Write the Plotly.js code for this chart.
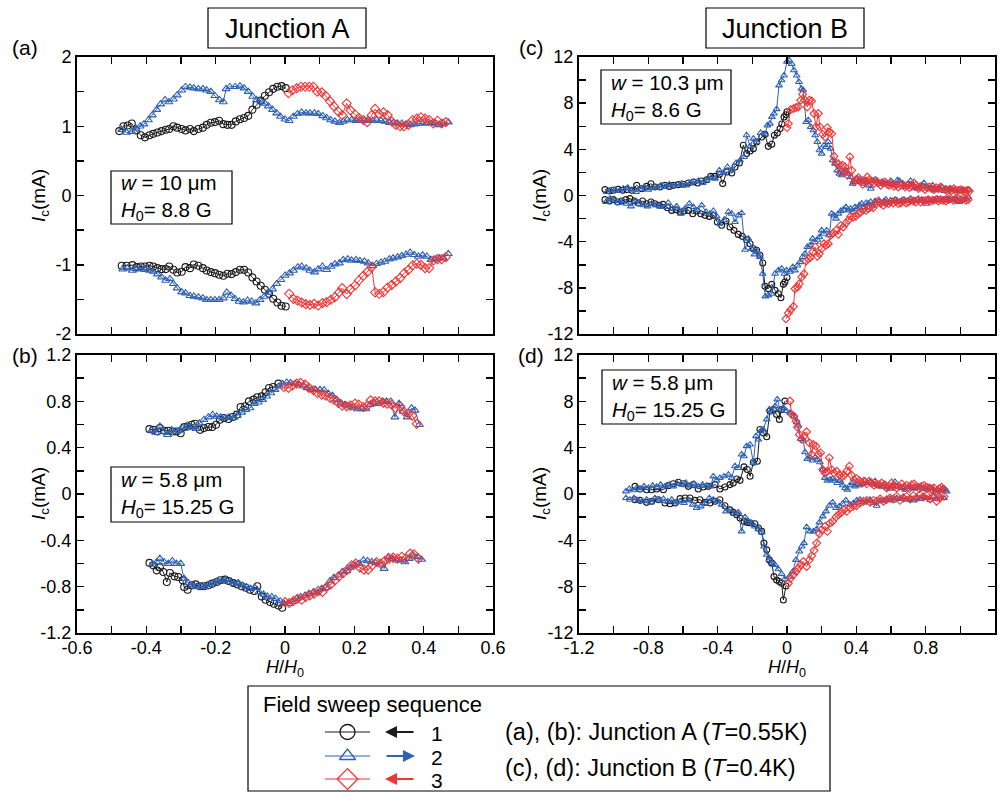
<!DOCTYPE html>
<html>
<head>
<meta charset="utf-8">
<script src="https://cdn.plot.ly/plotly-3.0.1.min.js"></script>
<style>html,body{margin:0;padding:0;background:#fff;}#chart{width:1007px;height:793px;}</style>
</head>
<body>
<div id="chart"></div>
<script>
// ---------------- Panel (a): Junction A, w = 10 um ----------------
const aBlkUpX = [-0.478,-0.466,-0.454,-0.442,-0.43,-0.416,-0.404,-0.391,-0.38,-0.368,-0.356,-0.344,-0.334,-0.322,-0.311,-0.298,-0.287,-0.274,-0.263,-0.25,-0.237,-0.226,-0.214,-0.202,-0.19,-0.178,-0.166,-0.154,-0.142,-0.13,-0.118,-0.106,-0.094,-0.082,-0.07,-0.058,-0.046,-0.034,-0.022,-0.01,0.002];
const aBlkUpY = [0.93,1.0,1.01,1.04,0.94,0.87,0.84,0.87,0.89,0.91,0.93,0.95,0.96,1.0,0.98,0.96,0.94,0.96,0.93,0.96,0.98,1.02,1.05,1.06,1.08,1.03,1.02,1.02,1.07,1.1,1.12,1.15,1.24,1.31,1.37,1.44,1.49,1.54,1.57,1.58,1.55];
const aBluUpX = [-0.471,-0.457,-0.442,-0.43,-0.418,-0.407,-0.394,-0.383,-0.37,-0.359,-0.346,-0.335,-0.322,-0.311,-0.298,-0.287,-0.274,-0.263,-0.25,-0.237,-0.226,-0.214,-0.202,-0.189,-0.178,-0.17,-0.159,-0.144,-0.13,-0.118,-0.106,-0.093,-0.082,-0.07,-0.058,-0.048,-0.036,-0.024,-0.013,0.0,0.012,0.024,0.036,0.048,0.061,0.072,0.085,0.096,0.109,0.12,0.132,0.144,0.157,0.168,0.18,0.192,0.205,0.216,0.229,0.24,0.253,0.264,0.277,0.288,0.301,0.312,0.325,0.337,0.349,0.361,0.373,0.385,0.397,0.409,0.421,0.433,0.445,0.457,0.471];
const aBluUpY = [0.95,0.91,0.92,0.97,1.0,1.03,1.09,1.16,1.24,1.32,1.38,1.35,1.39,1.45,1.52,1.57,1.56,1.55,1.54,1.54,1.52,1.5,1.44,1.38,1.35,1.54,1.57,1.57,1.58,1.55,1.5,1.43,1.38,1.36,1.33,1.29,1.24,1.19,1.14,1.1,1.08,1.14,1.18,1.2,1.19,1.19,1.19,1.18,1.15,1.12,1.09,1.07,1.05,1.07,1.09,1.09,1.08,1.09,1.08,1.09,1.08,1.09,1.08,1.07,1.05,1.05,1.04,1.04,1.03,1.02,1.03,1.04,1.04,1.05,1.04,1.05,1.02,1.04,1.06];
const aRedUpX = [0.01,0.021,0.034,0.046,0.058,0.07,0.082,0.093,0.106,0.117,0.13,0.141,0.154,0.165,0.178,0.189,0.202,0.213,0.226,0.237,0.25,0.26,0.271,0.284,0.296,0.308,0.32,0.332,0.343,0.356,0.368,0.38,0.392,0.404,0.416,0.428,0.44,0.452,0.464];
const aRedUpY = [1.48,1.52,1.55,1.57,1.57,1.57,1.57,1.5,1.49,1.44,1.36,1.29,1.21,1.16,1.33,1.23,1.17,1.12,1.09,1.06,1.16,1.25,1.18,1.2,1.16,1.07,1.02,1.0,1.0,1.02,1.09,1.11,1.13,1.11,1.09,1.04,1.08,1.04,1.06];
const aBlkLoX = [-0.471,-0.457,-0.44,-0.428,-0.416,-0.404,-0.391,-0.38,-0.368,-0.356,-0.344,-0.334,-0.322,-0.311,-0.298,-0.287,-0.274,-0.263,-0.25,-0.237,-0.226,-0.214,-0.202,-0.19,-0.178,-0.166,-0.154,-0.142,-0.13,-0.118,-0.106,-0.094,-0.082,-0.07,-0.058,-0.046,-0.034,-0.022,-0.01,0.002];
const aBlkLoY = [-1.015,-1.015,-1.006,-1.034,-1.025,-1.025,-1.015,-1.025,-1.049,-1.063,-1.063,-1.025,-1.073,-1.111,-1.1,-1.034,-1.049,-0.996,-1.015,-1.049,-1.082,-1.106,-1.121,-1.145,-1.159,-1.131,-1.135,-1.106,-1.073,-1.073,-1.111,-1.183,-1.241,-1.304,-1.362,-1.419,-1.492,-1.545,-1.593,-1.602];
const aBluLoX = [-0.468,-0.455,-0.44,-0.428,-0.416,-0.404,-0.391,-0.38,-0.368,-0.356,-0.344,-0.332,-0.322,-0.311,-0.298,-0.287,-0.274,-0.263,-0.25,-0.237,-0.226,-0.214,-0.202,-0.19,-0.178,-0.168,-0.156,-0.144,-0.132,-0.12,-0.108,-0.096,-0.084,-0.072,-0.06,-0.048,-0.036,-0.024,-0.012,0.0,0.013,0.024,0.037,0.048,0.061,0.072,0.085,0.096,0.108,0.12,0.133,0.144,0.157,0.168,0.181,0.192,0.205,0.216,0.229,0.24,0.253,0.264,0.277,0.288,0.301,0.312,0.325,0.337,0.349,0.361,0.373,0.385,0.397,0.409,0.421,0.433,0.445,0.457,0.471];
const aBluLoY = [-1.064,-1.049,-1.082,-1.063,-1.049,-1.073,-1.082,-1.097,-1.135,-1.179,-1.227,-1.203,-1.275,-1.338,-1.395,-1.41,-1.448,-1.458,-1.467,-1.482,-1.506,-1.506,-1.506,-1.506,-1.482,-1.4,-1.444,-1.492,-1.53,-1.54,-1.516,-1.53,-1.554,-1.506,-1.458,-1.4,-1.352,-1.275,-1.217,-1.155,-1.121,-1.082,-1.034,-1.025,-1.049,-1.082,-1.107,-1.063,-1.025,-1.073,-1.025,-0.991,-0.977,-0.929,-0.919,-0.938,-0.929,-0.943,-0.952,-0.977,-1.015,-0.986,-0.967,-0.953,-0.919,-0.904,-0.89,-0.871,-0.852,-0.823,-0.856,-0.88,-0.861,-0.88,-0.928,-0.919,-0.904,-0.904,-0.842];
const aRedLoX = [0.012,0.024,0.036,0.048,0.06,0.072,0.084,0.096,0.108,0.12,0.132,0.144,0.156,0.165,0.178,0.189,0.202,0.213,0.226,0.237,0.25,0.26,0.272,0.284,0.296,0.308,0.32,0.332,0.344,0.356,0.368,0.38,0.392,0.404,0.416,0.428,0.44,0.452,0.464];
const aRedLoY = [-1.419,-1.492,-1.516,-1.545,-1.569,-1.579,-1.564,-1.588,-1.554,-1.54,-1.506,-1.468,-1.4,-1.338,-1.424,-1.352,-1.299,-1.227,-1.159,-1.106,-1.034,-1.4,-1.419,-1.395,-1.328,-1.29,-1.241,-1.193,-1.121,-1.073,-1.01,-0.986,-1.001,-1.049,-1.049,-0.938,-0.919,-0.919,-0.89];

// ---------------- Panel (b): Junction A, w = 5.8 um ----------------
const bBlkUpX = [-0.391,-0.38,-0.368,-0.361,-0.348,-0.337,-0.324,-0.313,-0.301,-0.291,-0.281,-0.269,-0.26,-0.245,-0.234,-0.221,-0.21,-0.199,-0.188,-0.176,-0.163,-0.151,-0.139,-0.128,-0.115,-0.104,-0.091,-0.08,-0.067,-0.056,-0.046,-0.034,-0.019];
const bBlkUpY = [0.56,0.554,0.54,0.569,0.546,0.546,0.54,0.54,0.525,0.578,0.583,0.598,0.606,0.554,0.569,0.578,0.578,0.598,0.641,0.656,0.647,0.665,0.685,0.751,0.757,0.8,0.815,0.835,0.843,0.878,0.915,0.924,0.953];
const bBluUpX = [-0.385,-0.373,-0.361,-0.349,-0.339,-0.327,-0.315,-0.305,-0.293,-0.282,-0.269,-0.257,-0.247,-0.234,-0.221,-0.209,-0.197,-0.186,-0.173,-0.162,-0.149,-0.138,-0.125,-0.113,-0.101,-0.089,-0.077,-0.065,-0.053,-0.041,-0.029,-0.017,-0.007,0.005,0.016,0.029,0.04,0.053,0.064,0.077,0.088,0.101,0.113,0.125,0.137,0.149,0.161,0.173,0.185,0.197,0.209,0.221,0.233,0.245,0.257,0.269,0.281,0.293,0.305,0.317,0.329,0.341,0.353,0.365,0.375,0.388];
const bBluUpY = [0.549,0.531,0.583,0.54,0.511,0.554,0.54,0.549,0.578,0.589,0.575,0.563,0.612,0.641,0.664,0.684,0.67,0.664,0.656,0.664,0.656,0.676,0.705,0.728,0.742,0.78,0.792,0.815,0.844,0.872,0.901,0.93,0.95,0.964,0.959,0.953,0.945,0.93,0.916,0.901,0.901,0.901,0.896,0.867,0.85,0.815,0.786,0.771,0.757,0.748,0.734,0.734,0.734,0.771,0.786,0.78,0.8,0.8,0.8,0.664,0.78,0.713,0.664,0.742,0.722,0.598];
const bRedUpX = [-0.003,0.01,0.021,0.034,0.045,0.058,0.069,0.082,0.093,0.106,0.117,0.13,0.141,0.154,0.165,0.178,0.189,0.202,0.213,0.226,0.238,0.247,0.26,0.271,0.284,0.295,0.308,0.319,0.332,0.343,0.356,0.367,0.38];
const bRedUpY = [0.924,0.916,0.936,0.953,0.959,0.945,0.916,0.896,0.872,0.858,0.85,0.829,0.815,0.786,0.763,0.757,0.763,0.78,0.771,0.751,0.763,0.809,0.8,0.8,0.786,0.78,0.771,0.742,0.757,0.713,0.693,0.676,0.606];
const bBlkLoX = [-0.391,-0.38,-0.37,-0.361,-0.351,-0.341,-0.332,-0.319,-0.308,-0.295,-0.291,-0.281,-0.269,-0.258,-0.245,-0.234,-0.221,-0.21,-0.197,-0.186,-0.173,-0.162,-0.149,-0.138,-0.125,-0.113,-0.101,-0.089,-0.08,-0.067,-0.056,-0.043,-0.032,-0.019,-0.008];
const bBlkLoY = [-0.595,-0.615,-0.659,-0.635,-0.673,-0.76,-0.682,-0.711,-0.716,-0.745,-0.803,-0.826,-0.788,-0.78,-0.797,-0.797,-0.788,-0.774,-0.76,-0.745,-0.739,-0.751,-0.768,-0.78,-0.797,-0.809,-0.826,-0.837,-0.797,-0.884,-0.913,-0.933,-0.947,-0.962,-0.982];
const bBluLoX = [-0.382,-0.37,-0.361,-0.349,-0.337,-0.325,-0.313,-0.301,-0.291,-0.279,-0.267,-0.255,-0.243,-0.231,-0.219,-0.207,-0.195,-0.183,-0.171,-0.159,-0.147,-0.135,-0.123,-0.111,-0.099,-0.087,-0.075,-0.062,-0.051,-0.038,-0.027,-0.014,-0.003,0.01,0.021,0.034,0.045,0.058,0.069,0.082,0.093,0.106,0.117,0.13,0.141,0.154,0.165,0.178,0.189,0.202,0.213,0.226,0.238,0.25,0.262,0.274,0.286,0.298,0.31,0.322,0.334,0.346,0.358,0.37,0.382,0.394];
const bBluLoY = [-0.607,-0.587,-0.558,-0.587,-0.601,-0.578,-0.601,-0.601,-0.731,-0.768,-0.788,-0.803,-0.797,-0.803,-0.78,-0.768,-0.751,-0.751,-0.739,-0.76,-0.774,-0.768,-0.788,-0.803,-0.817,-0.809,-0.846,-0.866,-0.884,-0.889,-0.904,-0.924,-0.947,-0.947,-0.933,-0.904,-0.889,-0.875,-0.86,-0.846,-0.855,-0.817,-0.809,-0.751,-0.722,-0.702,-0.673,-0.664,-0.635,-0.615,-0.601,-0.572,-0.578,-0.587,-0.595,-0.607,-0.644,-0.543,-0.558,-0.572,-0.572,-0.587,-0.558,-0.529,-0.543,-0.566];
const bRedLoX = [0.0,0.012,0.024,0.036,0.048,0.06,0.072,0.084,0.096,0.108,0.12,0.132,0.144,0.156,0.168,0.18,0.192,0.204,0.216,0.228,0.24,0.252,0.264,0.276,0.288,0.3,0.312,0.324,0.337,0.348,0.361,0.372,0.385];
const bRedLoY = [-0.933,-0.941,-0.924,-0.904,-0.913,-0.889,-0.875,-0.86,-0.837,-0.846,-0.803,-0.78,-0.745,-0.711,-0.682,-0.653,-0.615,-0.601,-0.635,-0.653,-0.653,-0.615,-0.587,-0.601,-0.578,-0.558,-0.549,-0.558,-0.543,-0.558,-0.514,-0.52,-0.558];

// ---------------- Panel (c): Junction B, w = 10.3 um ----------------
const cBlkUpX = [-1.05,-1.025,-1.002,-0.973,-0.948,-0.925,-0.896,-0.867,-0.838,-0.81,-0.785,-0.762,-0.733,-0.704,-0.679,-0.656,-0.627,-0.598,-0.569,-0.54,-0.515,-0.492,-0.463,-0.44,-0.415,-0.39,-0.371,-0.348,-0.319,-0.3,-0.275,-0.252,-0.233,-0.213,-0.194,-0.175,-0.146,-0.127,-0.108,-0.088,-0.073,-0.056,-0.04,-0.03,-0.017,-0.006,0.0];
const cBlkUpY = [0.51,0.39,0.45,0.53,0.45,0.51,0.45,0.88,0.59,0.79,1.02,0.74,0.74,0.88,0.79,0.88,0.94,0.97,1.08,1.17,1.08,1.26,1.37,1.66,1.66,1.84,1.03,2.04,1.95,2.47,2.82,4.35,3.63,3.86,4.06,4.64,5.07,5.3,4.26,4.44,5.22,5.42,5.8,6.2,6.8,7.0,7.25];
const cBluUpX = [-1.04,-1.017,-0.992,-0.967,-0.944,-0.919,-0.896,-0.871,-0.848,-0.823,-0.8,-0.775,-0.752,-0.727,-0.704,-0.679,-0.656,-0.631,-0.608,-0.583,-0.56,-0.535,-0.512,-0.487,-0.463,-0.438,-0.415,-0.39,-0.367,-0.344,-0.319,-0.294,-0.271,-0.248,-0.233,-0.213,-0.194,-0.175,-0.152,-0.127,-0.113,-0.098,-0.087,-0.075,-0.06,-0.046,
  -0.031,-0.017,0.0,0.013,0.027,0.04,0.056,0.069,0.083,0.094,0.11,0.123,0.137,0.152,0.163,0.175,0.187,0.2,0.213,0.225,0.238,0.252,0.263,0.277,0.29,0.302,0.315,0.329,0.34,0.354,0.367,0.379,0.392,0.406,0.417,0.431,0.444,0.456,0.469,0.483,0.494,0.508,0.521,0.533,0.546,0.56,0.571,0.585,0.598,0.61,0.623,0.637,0.648,0.662,0.675,0.687,0.7,0.713,0.725,0.738,0.752,0.763,0.777,0.79,0.802,0.815,0.829,0.84,0.854,0.867,0.879,0.892,0.906,0.917,0.931,0.944,0.956,0.969,0.983,0.994,1.008,1.021,1.033,1.046];
const cBluUpY = [0.3,0.45,0.51,0.39,0.59,0.68,0.45,0.3,0.59,0.74,0.51,0.68,0.68,0.88,0.74,0.97,0.8,0.94,1.03,0.88,1.08,1.17,1.26,1.08,1.32,1.55,1.46,2.18,1.95,2.47,2.18,2.82,3.05,3.34,5.22,4.26,4.93,4.64,5.42,5.3,6.08,6.23,6.81,7.1,7.48,9.54,
  9.98,10.4,11.6,11.7,11.4,10.85,10.4,9.84,9.26,9.12,6.37,6.52,5.94,5.65,5.22,4.64,3.92,3.63,4.35,4.2,4.64,4.06,3.05,2.76,2.18,1.89,1.75,2.04,2.18,1.89,1.6,1.03,1.17,1.46,1.32,1.17,1.03,1.32,0.88,0.59,1.26,1.37,1.26,1.03,1.17,1.08,1.03,0.97,1.26,1.03,0.88,1.32,1.26,1.03,0.88,0.74,1.03,1.26,0.88,0.68,0.59,0.79,0.88,1.08,0.74,0.59,0.68,0.88,0.45,0.51,0.59,0.74,0.39,0.59,0.51,0.59,0.45,0.51,0.39,0.51,0.45,0.45,0.39,0.51];
const cRedUpX = [0.0,0.008,0.021,0.037,0.052,0.065,0.079,0.09,0.104,0.117,0.129,0.142,0.156,0.167,0.181,0.19,0.206,0.219,0.233,0.244,0.258,0.271,0.283,0.296,0.31,0.321,0.335,0.348,0.363,0.373,0.387,0.398,0.412,0.425,0.437,0.45,0.463,0.475,0.488,0.502,0.513,0.527,0.54,0.552,0.565,0.579,0.59,0.604,0.617,0.629,0.642,0.656,0.667,0.681,0.694,0.706,0.719,0.733,0.744,0.758,0.771,0.783,0.796,0.81,0.821,0.835,0.848,0.86,0.873,0.887,0.898,0.912,0.925,0.937,0.95,0.963,0.975,0.988,1.002,1.013,1.027,1.04,1.052];
const cRedUpY = [5.88,6.23,7.44,7.53,7.62,7.67,8.25,8.77,8.25,7.67,8.25,8.19,7.1,5.94,7.1,5.94,5.3,5.07,5.88,5.5,5.36,3.4,2.82,2.76,2.04,2.62,2.47,1.75,3.34,2.18,1.17,1.37,1.55,1.32,0.97,1.26,1.6,1.37,1.17,1.03,1.26,1.08,0.88,1.08,1.17,0.97,0.88,1.08,0.79,0.88,0.74,0.88,0.97,0.74,0.88,0.68,0.79,1.08,0.88,0.59,0.74,0.68,0.51,0.68,0.74,0.59,0.51,0.68,0.59,0.74,0.59,0.51,0.39,0.51,0.45,0.59,0.39,0.45,0.51,0.45,0.39,0.45,0.39];
const cBlkLoX = [-1.05,-1.025,-1.002,-0.977,-0.954,-0.929,-0.906,-0.881,-0.858,-0.833,-0.81,-0.785,-0.762,-0.737,-0.715,-0.69,-0.665,-0.64,-0.617,-0.594,-0.569,-0.544,-0.521,-0.498,-0.473,-0.448,-0.425,-0.402,-0.377,-0.352,-0.329,-0.306,-0.281,-0.258,-0.233,-0.213,-0.194,-0.175,-0.156,-0.14,-0.127,-0.108,-0.088,-0.069,-0.05,-0.035,-0.021,-0.012,0.0];
const cBlkLoY = [-0.36,-0.48,-0.36,-0.56,-0.48,-0.36,-0.27,-0.48,-0.65,-0.48,-0.71,-0.56,-0.71,-0.85,-0.77,-1.06,-1.29,-1.23,-1.43,-1.34,-1.29,-1.58,-1.34,-1.58,-1.72,-1.81,-1.72,-2.29,-2.58,-2.21,-2.73,-3.02,-3.37,-3.54,-3.83,-4.18,-4.61,-4.75,-5.19,-5.85,-7.87,-8.07,-7.7,-8.22,-8.51,-8.86,-7.7,-7.5,-7.1];
const cBluLoX = [-1.044,-1.021,-0.996,-0.973,-0.948,-0.925,-0.9,-0.877,-0.852,-0.829,-0.804,-0.781,-0.756,-0.733,-0.708,-0.685,-0.66,-0.637,-0.612,-0.589,-0.563,-0.54,-0.515,-0.492,-0.467,-0.444,-0.425,-0.406,-0.387,-0.362,-0.338,-0.319,-0.3,-0.281,-0.262,-0.242,-0.223,-0.204,-0.188,-0.175,-0.156,-0.14,-0.125,-0.108,-0.088,-0.069,-0.05,-0.031,-0.015,-0.002,
  0.017,0.033,0.046,0.06,0.075,0.09,0.104,0.117,0.133,0.148,0.162,0.175,0.187,0.2,0.213,0.229,0.244,0.258,0.271,0.283,0.296,0.31,0.325,0.34,0.354,0.367,0.379,0.392,0.406,0.417,0.431,0.444,0.456,0.469,0.483,0.494,0.508,0.521,0.533,0.546,0.56,0.571,0.585,0.598,0.61,0.623,0.637,0.648,0.662,0.675,0.687,0.7,0.713,0.725,0.738,0.752,0.763,0.777,0.79,0.802,0.815,0.829,0.84,0.854,0.867,0.879,0.892,0.906,0.917,0.931,0.944,0.956,0.969,0.983,0.994,1.008,1.021,1.033,1.046];
const cBluLoY = [-0.56,-0.27,-0.42,-0.65,-0.48,-0.71,-0.94,-0.48,-0.71,-0.85,-0.94,-0.71,-0.85,-0.94,-1.0,-0.65,-1.14,-0.94,-1.58,-1.14,-0.71,-1.0,-1.29,-0.85,-1.43,-1.58,-1.34,-1.81,-2.44,-2.1,-1.43,-1.58,-2.3,-1.72,-1.52,-4.7,-3.74,-4.61,-5.1,-4.81,-5.33,-6.78,-8.74,-8.65,-8.51,-6.78,-6.49,-6.34,-6.78,-6.49,
  -6.6,-6.2,-6.49,-6.06,-5.77,-5.33,-5.04,-4.46,-4.32,-3.74,-4.03,-3.83,-3.6,-3.02,-3.31,-3.02,-3.45,-1.57,-1.72,-2.0,-1.57,-1.34,-1.23,-1.0,-1.29,-1.14,-1.43,-1.0,-1.14,-0.85,-0.71,-1.0,-0.65,-0.71,-0.56,-0.85,-0.48,-0.65,-0.48,-0.71,-0.48,-0.36,-0.65,-0.42,-0.48,-0.36,-0.48,-0.56,-0.42,-0.36,-0.48,-0.42,-0.27,-0.48,-0.42,-0.36,-0.48,-0.36,-0.42,-0.71,-0.36,-0.48,-0.36,-0.42,-0.27,-0.36,-0.42,-0.36,-0.27,-0.42,-0.36,-0.42,-0.27,-0.36,-0.56,-0.42,-0.36,-0.27,-0.13];
const cRedLoX = [-0.006,0.008,0.021,0.037,0.046,0.06,0.071,0.085,0.098,0.11,0.123,0.137,0.148,0.162,0.175,0.187,0.2,0.213,0.225,0.238,0.252,0.267,0.283,0.296,0.31,0.325,0.34,0.354,0.367,0.383,0.398,0.412,0.425,0.44,0.456,0.469,0.483,0.498,0.513,0.527,0.54,0.556,0.571,0.585,0.598,0.613,0.629,0.642,0.656,0.671,0.687,0.7,0.713,0.729,0.744,0.758,0.771,0.787,0.802,0.815,0.829,0.844,0.86,0.873,0.887,0.902,0.917,0.931,0.944,0.96,0.975,0.988,1.002,1.017,1.033,1.046];
const cRedLoY = [-10.68,-10.19,-9.9,-9.61,-8.08,-7.93,-7.64,-7.06,-6.78,-5.68,-5.48,-5.33,-4.9,-4.46,-5.27,-5.04,-4.61,-4.18,-4.32,-4.18,-3.45,-3.25,-3.02,-3.37,-2.59,-2.73,-2.38,-2.15,-1.81,-1.86,-1.81,-1.57,-1.43,-1.23,-1.29,-1.14,-1.0,-1.06,-0.71,-0.48,-0.71,-0.85,-0.65,-0.71,-0.56,-0.65,-0.48,-0.71,-0.65,-0.48,-0.65,-0.56,-0.42,-0.48,-0.56,-0.36,-0.56,-0.48,-0.42,-0.36,-0.48,-0.42,-0.36,-0.48,-0.36,-0.42,-0.48,-0.36,-0.27,-0.42,-0.36,-0.27,-0.36,-0.27,-0.42,-0.36];

// ---------------- Panel (d): Junction B, w = 5.8 um ----------------
const dBlkUpX = [-0.877,-0.848,-0.81,-0.781,-0.752,-0.713,-0.685,-0.656,-0.627,-0.598,-0.569,-0.54,-0.512,-0.483,-0.454,-0.415,-0.387,-0.358,-0.329,-0.31,-0.29,-0.271,-0.248,-0.229,-0.213,-0.194,-0.171,-0.156,-0.137,-0.117,-0.098,-0.079,-0.06,-0.044,-0.031,-0.012];
const dBlkUpY = [0.66,0.43,0.37,0.37,0.43,0.37,0.72,0.89,1.01,0.89,0.66,0.81,0.43,0.61,0.66,0.81,0.43,0.61,0.81,0.95,1.3,1.18,2.34,2.11,1.53,2.74,2.83,5.57,5.28,4.94,7.16,7.3,6.87,6.44,7.3,8.02];
const dBluUpX = [-0.929,-0.91,-0.887,-0.867,-0.848,-0.825,-0.8,-0.775,-0.752,-0.729,-0.704,-0.679,-0.656,-0.633,-0.608,-0.583,-0.56,-0.537,-0.512,-0.487,-0.463,-0.44,-0.425,-0.406,-0.387,-0.363,-0.338,-0.319,-0.3,-0.281,-0.262,-0.248,-0.233,-0.213,-0.194,-0.179,-0.165,-0.152,-0.137,-0.117,-0.102,-0.087,-0.069,-0.056,-0.04,-0.021,-0.002,
  0.017,0.04,0.056,0.065,0.079,0.094,0.104,0.117,0.133,0.148,0.162,0.175,0.19,0.206,0.219,0.233,0.248,0.263,0.277,0.29,0.306,0.321,0.335,0.348,0.363,0.379,0.392,0.406,0.421,0.437,0.45,0.463,0.479,0.494,0.508,0.521,0.537,0.552,0.565,0.579,0.594,0.61,0.623,0.637,0.652,0.667,0.681,0.694,0.71,0.725,0.738,0.752,0.767,0.783,0.796,0.81,0.825,0.84,0.854,0.867,0.883,0.898,0.912,0.921];
const dBluUpY = [0.23,0.43,0.32,0.52,0.37,0.66,0.52,0.72,0.61,0.81,0.66,0.81,0.66,0.89,0.81,0.95,0.72,0.89,0.66,0.81,0.72,0.66,1.52,1.18,1.39,1.53,1.67,1.39,2.4,2.25,3.41,3.26,4.13,4.27,2.69,5.0,4.7,5.43,5.57,6.44,7.3,7.07,7.59,8.17,7.3,7.45,7.16,
  7.01,6.72,6.2,5.92,4.76,4.62,3.61,3.03,3.17,2.89,3.17,2.97,2.74,2.11,1.39,1.15,1.24,1.33,1.15,0.95,1.15,0.75,0.52,0.38,0.75,0.95,0.66,0.81,0.75,0.87,1.15,0.95,1.04,0.87,1.1,0.75,0.66,0.66,0.87,0.58,0.46,0.66,1.04,0.66,0.58,0.52,0.38,0.58,0.66,0.46,0.52,0.58,0.66,0.46,0.52,0.38,0.58,0.52,0.23,0.38,0.29,0.46,0.38,0.23];
const dRedUpX = [0.017,0.027,0.04,0.052,0.06,0.071,0.085,0.098,0.113,0.129,0.142,0.152,0.167,0.181,0.194,0.206,0.219,0.233,0.244,0.258,0.271,0.287,0.302,0.315,0.329,0.344,0.36,0.373,0.387,0.402,0.417,0.431,0.444,0.46,0.475,0.488,0.502,0.517,0.533,0.546,0.56,0.575,0.59,0.604,0.617,0.633,0.648,0.662,0.675,0.69,0.706,0.719,0.733,0.748,0.763,0.777,0.79,0.806,0.821,0.835,0.848,0.863,0.879,0.892,0.906];
const dRedUpY = [8.03,6.87,6.72,6.29,5.77,5.14,4.71,5.0,5.37,4.42,3.41,4.27,4.13,3.46,3.55,2.11,1.82,1.96,3.12,2.11,1.82,1.96,1.67,1.44,1.62,1.96,2.4,1.62,1.24,1.33,1.15,0.95,1.1,0.87,1.1,0.95,0.75,0.87,0.81,0.95,0.75,0.52,0.66,0.95,0.66,0.52,0.66,0.87,0.58,0.75,0.46,0.81,0.87,0.66,0.46,0.66,0.75,0.58,0.52,0.38,0.52,0.23,0.46,0.58,0.38];
const dBlkLoX = [-0.877,-0.848,-0.81,-0.781,-0.742,-0.704,-0.675,-0.646,-0.617,-0.588,-0.56,-0.531,-0.502,-0.473,-0.444,-0.415,-0.387,-0.358,-0.329,-0.31,-0.29,-0.271,-0.248,-0.229,-0.21,-0.185,-0.165,-0.146,-0.133,-0.117,-0.102,-0.088,-0.075,-0.06,-0.044,-0.031,-0.021,-0.006];
const dBlkLoY = [-0.49,-0.55,-0.72,-0.63,-0.49,-0.78,-0.84,-0.78,-0.4,-0.35,-0.35,-0.55,-0.49,-0.72,-0.78,-0.63,-0.49,-1.01,-1.36,-1.59,-1.79,-2.08,-2.37,-2.45,-2.51,-2.57,-2.94,-3.23,-4.24,-4.82,-5.69,-5.97,-7.13,-7.42,-7.56,-7.71,-9.15,-7.94];
const dBluLoX = [-0.929,-0.906,-0.883,-0.858,-0.833,-0.81,-0.785,-0.762,-0.737,-0.713,-0.688,-0.665,-0.64,-0.617,-0.594,-0.569,-0.544,-0.521,-0.498,-0.473,-0.448,-0.425,-0.402,-0.377,-0.352,-0.329,-0.306,-0.281,-0.262,-0.242,-0.223,-0.204,-0.185,-0.165,-0.146,-0.133,-0.117,-0.102,-0.087,-0.069,-0.05,-0.031,-0.012,
  0.013,0.033,0.052,0.071,0.085,0.098,0.113,0.133,0.152,0.171,0.187,0.206,0.225,0.244,0.263,0.283,0.302,0.321,0.34,0.363,0.383,0.402,0.421,0.44,0.46,0.479,0.498,0.517,0.537,0.556,0.575,0.594,0.613,0.633,0.652,0.671,0.69,0.71,0.729,0.748,0.767,0.787,0.806,0.825,0.844,0.863,0.883,0.906];
const dBluLoY = [-0.35,-0.49,-0.35,-0.55,-0.63,-0.49,-0.72,-0.35,-0.55,-0.43,-0.63,-0.49,-0.72,-0.63,-0.78,-0.55,-0.92,-1.21,-1.07,-0.78,-0.35,-0.49,-0.63,-0.92,-1.5,-1.36,-1.7,-1.59,-3.23,-1.99,-2.37,-2.51,-2.8,-3.03,-3.32,-4.53,-5.25,-5.69,-5.97,-6.12,-6.49,-6.9,-7.36,
  -7.13,-6.7,-5.69,-4.96,-4.53,-4.24,-2.86,-3.23,-3.23,-3.03,-2.45,-1.93,-1.5,-1.01,-0.72,-1.21,-1.07,-0.84,-0.55,-0.92,-0.78,-0.55,-0.49,-0.72,-0.63,-0.49,-0.78,-1.01,-0.55,-0.63,-0.49,-0.43,-0.55,-0.35,-0.43,-0.26,-0.49,-0.43,-0.55,-0.35,-0.43,-0.26,-0.35,-0.49,-0.26,-0.43,-0.2,-0.35];
const dRedLoX = [0.008,0.021,0.037,0.052,0.065,0.079,0.094,0.113,0.129,0.142,0.156,0.171,0.187,0.2,0.219,0.233,0.248,0.263,0.283,0.296,0.315,0.329,0.344,0.363,0.383,0.402,0.421,0.44,0.46,0.479,0.498,0.517,0.537,0.556,0.575,0.594,0.613,0.633,0.652,0.671,0.69,0.71,0.729,0.748,0.767,0.787,0.806,0.825,0.844,0.863,0.883,0.906];
const dRedLoY = [-7.71,-7.27,-6.98,-6.7,-6.41,-6.12,-5.83,-6.26,-5.69,-5.34,-4.88,-4.24,-3.43,-3.09,-2.8,-3.23,-2.51,-2.37,-1.99,-1.79,-1.59,-1.36,-1.5,-1.21,-1.07,-1.01,-0.78,-0.63,-0.55,-0.72,-0.55,-0.63,-0.43,-0.63,-0.49,-0.35,-0.43,-0.2,-0.55,-0.35,-0.2,-0.43,-0.14,-0.35,-0.06,-0.26,-0.14,-0.43,-0.26,-0.63,-0.35,-0.2];

// ---------------- Tick values and labels ----------------
const xTicksAB = [-0.6,-0.5,-0.4,-0.3,-0.2,-0.1,0,0.1,0.2,0.3,0.4,0.5,0.6];
const xLabelsAB = ['-0.6','','-0.4','','-0.2','','0','','0.2','','0.4','','0.6'];
const yTicksA = [-2,-1.5,-1,-0.5,0,0.5,1,1.5,2];
const yLabelsA = ['-2','','-1','','0','','1','','2'];
const yTicksB = [-1.2,-1.0,-0.8,-0.6,-0.4,-0.2,0,0.2,0.4,0.6,0.8,1.0,1.2];
const yLabelsB = ['-1.2','','-0.8','','-0.4','','0','','0.4','','0.8','','1.2'];
const xTicksCD = [-1.2,-1.0,-0.8,-0.6,-0.4,-0.2,0,0.2,0.4,0.6,0.8,1.0,1.2];
const xLabelsCD = ['-1.2','','-0.8','','-0.4','','0','','0.4','','0.8','','1.2'];
const yTicksCD = [-12,-10,-8,-6,-4,-2,0,2,4,6,8,10,12];
const yLabelsCD = ['-12','','-8','','-4','','0','','4','','8','','12'];

// ---------------- Text ----------------
const panelLabels = ['(a)','(b)','(c)','(d)'];
const junctionTitles = ['Junction A','Junction B'];
const boxTexts = [
  '<i>w</i> = 10 μm<br><i>H</i><sub>0</sub>= 8.8 G',
  '<i>w</i> = 5.8 μm<br><i>H</i><sub>0</sub>= 15.25 G',
  '<i>w</i> = 10.3 μm<br><i>H</i><sub>0</sub>= 8.6 G',
  '<i>w</i> = 5.8 μm<br><i>H</i><sub>0</sub>= 15.25 G'
];
const seqNames = ['1','2','3'];
const legendTitle = 'Field sweep sequence';
const tempNotes = ['(a), (b): Junction A (<i>T</i>=0.55K)', '(c), (d): Junction B (<i>T</i>=0.4K)'];

// ---------------- Styling / layout ----------------
const F = '"Liberation Sans", Arial, Helvetica, sans-serif';
const W = 1007, H = 793;
const STY = {
  blk: {color:'#1b1b1b', symbol:'circle-open', size:7},
  blu: {color:'#2f62b5', symbol:'triangle-up-open', size:7},
  red: {color:'#f03535', symbol:'diamond-open', size:7}
};
function tr(x, y, xa, ya, s, msize) {
  return {type:'scatter', mode:'lines+markers', x:x, y:y, xaxis:xa, yaxis:ya, hoverinfo:'skip',
    line:{color:s.color, width:1},
    marker:{symbol:s.symbol, size:msize || s.size, color:s.color, line:{color:s.color, width:1.1}}};
}
const traces = [
  tr(aBlkUpX,aBlkUpY,'x','y',STY.blk), tr(aBlkLoX,aBlkLoY,'x','y',STY.blk),
  tr(aBluUpX,aBluUpY,'x','y',STY.blu), tr(aBluLoX,aBluLoY,'x','y',STY.blu),
  tr(aRedUpX,aRedUpY,'x','y',STY.red), tr(aRedLoX,aRedLoY,'x','y',STY.red),
  tr(bBlkUpX,bBlkUpY,'x2','y2',STY.blk), tr(bBlkLoX,bBlkLoY,'x2','y2',STY.blk),
  tr(bBluUpX,bBluUpY,'x2','y2',STY.blu), tr(bBluLoX,bBluLoY,'x2','y2',STY.blu),
  tr(bRedUpX,bRedUpY,'x2','y2',STY.red), tr(bRedLoX,bRedLoY,'x2','y2',STY.red),
  tr(cBlkUpX,cBlkUpY,'x3','y3',STY.blk,6), tr(cBlkLoX,cBlkLoY,'x3','y3',STY.blk,6),
  tr(cBluUpX,cBluUpY,'x3','y3',STY.blu,6), tr(cBluLoX,cBluLoY,'x3','y3',STY.blu,6),
  tr(cRedUpX,cRedUpY,'x3','y3',STY.red,6), tr(cRedLoX,cRedLoY,'x3','y3',STY.red,6),
  tr(dBlkUpX,dBlkUpY,'x4','y4',STY.blk,6), tr(dBlkLoX,dBlkLoY,'x4','y4',STY.blk,6),
  tr(dBluUpX,dBluUpY,'x4','y4',STY.blu,6), tr(dBluLoX,dBluLoY,'x4','y4',STY.blu,6),
  tr(dRedUpX,dRedUpY,'x4','y4',STY.red,6), tr(dRedLoX,dRedLoY,'x4','y4',STY.red,6)
];

// legend key symbols (overlay axis in pixel units)
const legRowsY = [732, 756, 779];
const legKeys = [STY.blk, STY.blu, STY.red];
const legSizes = [15, 14, 16];
legKeys.forEach((s, i) => {
  traces.push({type:'scatter', mode:'lines', x:[325,370], y:[legRowsY[i],legRowsY[i]], xaxis:'x5', yaxis:'y5',
    hoverinfo:'skip', line:{color:s.color, width:1.2}});
  traces.push({type:'scatter', mode:'markers', x:[347.5], y:[legRowsY[i]], xaxis:'x5', yaxis:'y5', hoverinfo:'skip',
    marker:{symbol:s.symbol, size:legSizes[i], color:s.color, line:{color:s.color, width:1.3}}});
});

function px(v){ return v / W; }
function py(v){ return 1 - v / H; }
const axCommon = {showline:true, linecolor:'#000', linewidth:2, mirror:'ticks', ticks:'inside', ticklen:7,
  tickwidth:1.5, tickcolor:'#000', showgrid:false, zeroline:false, tickmode:'array',
  tickfont:{family:F, size:18, color:'#000'}};
const xDomAB = [px(77), px(493)], xDomCD = [px(579), px(995)];
const yDomTop = [py(334), py(57)], yDomBot = [py(633), py(355)];

const layout = {
  width:W, height:H, margin:{l:0,r:0,t:0,b:0}, paper_bgcolor:'#fff', plot_bgcolor:'rgba(0,0,0,0)',
  showlegend:false, font:{family:F, color:'#000'},
  xaxis: Object.assign({}, axCommon, {domain:xDomAB, range:[-0.6,0.6], anchor:'y', tickvals:xTicksAB, ticktext:xTicksAB.map(()=>'' )}),
  yaxis: Object.assign({}, axCommon, {domain:yDomTop, range:[-2,2], anchor:'x', tickvals:yTicksA, ticktext:yLabelsA}),
  xaxis2: Object.assign({}, axCommon, {domain:xDomAB, range:[-0.6,0.6], anchor:'y2', tickvals:xTicksAB, ticktext:xLabelsAB, ticklabelstandoff:-3}),
  yaxis2: Object.assign({}, axCommon, {domain:yDomBot, range:[-1.2,1.2], anchor:'x2', tickvals:yTicksB, ticktext:yLabelsB}),
  xaxis3: Object.assign({}, axCommon, {domain:xDomCD, range:[-1.2,1.2], anchor:'y3', tickvals:xTicksCD, ticktext:xTicksCD.map(()=>'' )}),
  yaxis3: Object.assign({}, axCommon, {domain:yDomTop, range:[-12,12], anchor:'x3', tickvals:yTicksCD, ticktext:yLabelsCD}),
  xaxis4: Object.assign({}, axCommon, {domain:xDomCD, range:[-1.2,1.2], anchor:'y4', tickvals:xTicksCD, ticktext:xLabelsCD, ticklabelstandoff:-3}),
  yaxis4: Object.assign({}, axCommon, {domain:yDomBot, range:[-12,12], anchor:'x4', tickvals:yTicksCD, ticktext:yLabelsCD}),
  xaxis5: {domain:[0,1], range:[0,W], anchor:'y5', visible:false, fixedrange:true},
  yaxis5: {domain:[0,1], range:[H,0], anchor:'x5', visible:false, fixedrange:true},
  shapes: [], annotations: []
};

function rect(x0,y0,x1,y1,lw){
  layout.shapes.push({type:'rect', xref:'x5', yref:'y5', x0:x0, y0:y0, x1:x1, y1:y1, layer:'above',
    line:{color:'#000', width:lw||1.2}, fillcolor:'rgba(0,0,0,0)'});
}
function txt(t, x, y, size, opts){
  layout.annotations.push(Object.assign({text:t, x:x, y:y, xref:'x5', yref:'y5', showarrow:false,
    font:{family:F, size:size, color:'#000'}, xanchor:'center', yanchor:'middle'}, opts||{}));
}

// Junction titles
rect(208,8,366,48,1.2); txt(junctionTitles[0], 287, 28.5, 27);
rect(706,8,864,48,1.2); txt(junctionTitles[1], 785, 28.5, 27);
// panel labels
txt(panelLabels[0], 25, 47, 21); txt(panelLabels[1], 25, 355, 21);
txt(panelLabels[2], 531, 47, 21); txt(panelLabels[3], 531, 355, 21);
// axis titles
const yTitle = '<i>I</i><sub>c</sub>(mA)';
txt(yTitle, 40, 196, 19, {textangle:-90}); txt(yTitle, 40, 494, 19, {textangle:-90});
txt(yTitle, 541, 196, 19, {textangle:-90}); txt(yTitle, 541, 494, 19, {textangle:-90});
const xTitle = '<i>H</i>/<i>H</i><sub>0</sub>';
txt(xTitle, 285, 668, 18); txt(xTitle, 787, 668, 18);
// parameter boxes
const boxes = [[111,171,232,224],[111,467,244,522],[601,70,731,124],[602,370,736,424]];
boxes.forEach((b,i) => {
  rect(b[0],b[1],b[2],b[3],1.2);
  txt(boxTexts[i], b[0]+8, (b[1]+b[3])/2, 20.5, {xanchor:'left', align:'left'});
});
// legend box
rect(248,686,830,791,1.2);
txt(legendTitle, 261, 704, 22, {xanchor:'left'});
const arrowDir = [-1, 1, -1];
legRowsY.forEach((yy,i) => {
  const head = arrowDir[i] < 0 ? 385 : 415, tail = arrowDir[i] < 0 ? 415 : 385;
  layout.annotations.push({x:head, y:yy, ax:tail, ay:yy, xref:'x5', yref:'y5', axref:'x5', ayref:'y5',
    text:'', showarrow:true, arrowhead:2, arrowsize:1.2, arrowwidth:2, arrowcolor:legKeys[i].color});
  txt(seqNames[i], 437, yy+1, 21);
});
txt(tempNotes[0], 503, 732, 23.5, {xanchor:'left'});
txt(tempNotes[1], 503, 768, 23.5, {xanchor:'left'});

Plotly.newPlot('chart', traces, layout, {staticPlot:true, displayModeBar:false});
</script>
</body>
</html>
